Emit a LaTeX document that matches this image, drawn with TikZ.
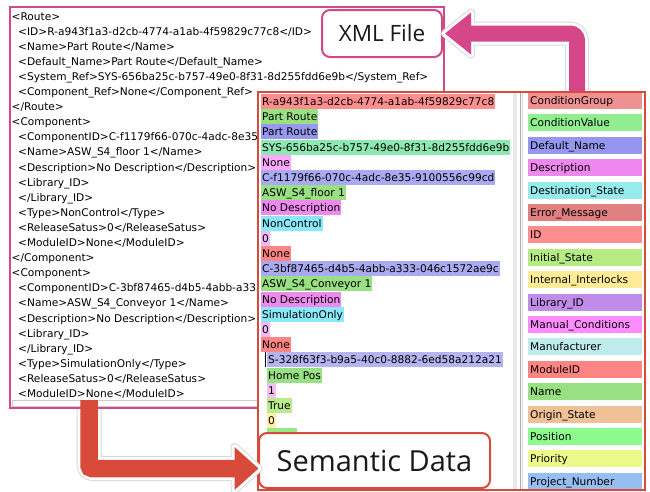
\documentclass[tikz,border=0pt]{standalone}
\usepackage{fontspec}
\setmainfont{DejaVu Sans}
\newfontfamily\labfont{Open Sans}
\definecolor{xpink}{RGB}{214,71,138}
\definecolor{xred}{RGB}{216,74,58}
\definecolor{cID}{RGB}{255,143,143}
\definecolor{cName}{RGB}{152,224,130}
\definecolor{cDefName}{RGB}{152,152,238}
\definecolor{cSys}{RGB}{142,232,178}
\definecolor{cCompRef}{RGB}{255,168,255}
\definecolor{cCompID}{RGB}{170,170,242}
\definecolor{cDesc}{RGB}{238,138,238}
\definecolor{cType}{RGB}{138,232,250}
\definecolor{cRel}{RGB}{242,184,242}
\definecolor{cMod}{RGB}{255,133,133}
\definecolor{cS}{RGB}{180,180,240}
\definecolor{cOne}{RGB}{245,190,240}
\definecolor{cTrue}{RGB}{185,235,140}
\definecolor{cYel}{RGB}{255,240,170}
\definecolor{cGreen}{RGB}{150,235,130}
\definecolor{bA}{RGB}{240,145,145}
\definecolor{bB}{RGB}{144,238,144}
\definecolor{bC}{RGB}{150,150,238}
\definecolor{bD}{RGB}{238,135,238}
\definecolor{bE}{RGB}{150,236,236}
\definecolor{bF}{RGB}{224,128,128}
\definecolor{bG}{RGB}{255,143,143}
\definecolor{bH}{RGB}{182,234,130}
\definecolor{bI}{RGB}{255,234,150}
\definecolor{bJ}{RGB}{192,140,234}
\definecolor{bK}{RGB}{255,140,255}
\definecolor{bL}{RGB}{190,236,236}
\definecolor{bM}{RGB}{255,133,133}
\definecolor{bN}{RGB}{152,224,130}
\definecolor{bO}{RGB}{240,192,150}
\definecolor{bP}{RGB}{140,250,140}
\definecolor{bQ}{RGB}{236,250,140}
\definecolor{bR}{RGB}{150,190,240}
\tikzset{
  smallfont/.style={font=\fontsize{10.6}{12}\selectfont},
  xmltxt/.style={smallfont, anchor=west, inner xsep=0pt, inner ysep=2pt, text height=9.5pt, text depth=1.5pt, text=black},
  val/.style={smallfont, anchor=west, inner xsep=1pt, inner ysep=2pt, text height=9.5pt, text depth=1.5pt, fill=#1, text=black},
  bar/.style={smallfont, anchor=west, text width=110pt, align=left, minimum height=17pt, inner xsep=2pt, inner ysep=0pt, text height=9.5pt, text depth=1.5pt, fill=#1, text=black},
  panel/.style={anchor=north west, fill=white, inner sep=0pt, outer sep=0pt},
  lbox/.style={fill=white, rounded corners=8pt, line width=2pt, inner sep=0pt, text=black!90},
  halogray/.style={draw=gray!30, line width=#1, line join=round},
  halowhite/.style={draw=white, line width=#1, line join=round},
}
\newcommand\xmlline[3]{\node[xmltxt] (x#1) at (#2,{16+15.1*#1}) {#3};}
\begin{document}
\begin{tikzpicture}[x=1pt,y=-1pt]
\useasboundingbox (0,0) rectangle (650,491);
\fill[white] (0,0) rectangle (650,491);

% ---------------- XML panel
\node[panel, minimum width=434pt, minimum height=401pt] (xmlp) at (10,7) {};
\begin{scope}
\clip (11,8) -- (443,8) -- (443,91) -- (257,91) -- (257,407) -- (11,407) -- cycle;
\xmlline{0}{11.5}{<Route>}
\xmlline{1}{18}{<ID>R-a943f1a3-d2cb-4774-a1ab-4f59829c77c8</ID>}
\xmlline{2}{18}{<Name>Part Route</Name>}
\xmlline{3}{18}{<Default\_Name>Part Route</Default\_Name>}
\xmlline{4}{18}{<System\_Ref>SYS-656ba25c-b757-49e0-8f31-8d255fdd6e9b</System\_Ref>}
\xmlline{5}{18}{<Component\_Ref>None</Component\_Ref>}
\xmlline{6}{11.5}{</Route>}
\xmlline{7}{11.5}{<Component>}
\xmlline{8}{18}{<ComponentID>C-f1179f66-070c-4adc-8e35-}
\xmlline{9}{18}{<Name>ASW\_S4\_floor 1</Name>}
\xmlline{10}{18}{<Description>No Description</Description>}
\xmlline{11}{18}{<Library\_ID>}
\xmlline{12}{18}{</Library\_ID>}
\xmlline{13}{18}{<Type>NonControl</Type>}
\xmlline{14}{18}{<ReleaseSatus>0</ReleaseSatus>}
\xmlline{15}{18}{<ModuleID>None</ModuleID>}
\xmlline{16}{11.5}{</Component>}
\xmlline{17}{11.5}{<Component>}
\xmlline{18}{18}{<ComponentID>C-3bf87465-d4b5-4abb-a333}
\xmlline{19}{18}{<Name>ASW\_S4\_Conveyor 1</Name>}
\xmlline{20}{18}{<Description>No Description</Description>}
\xmlline{21}{18}{<Library\_ID>}
\xmlline{22}{18}{</Library\_ID>}
\xmlline{23}{18}{<Type>SimulationOnly</Type>}
\xmlline{24}{18}{<ReleaseSatus>0</ReleaseSatus>}
\xmlline{25}{18}{<ModuleID>None</ModuleID>}
\end{scope}
\draw[gray!40] (12,400) rectangle (257,406.5);
\draw[xpink, line width=2pt] (xmlp.north west) rectangle (xmlp.south east);

% XML File label
\node[lbox, draw=xpink, minimum width=120pt, minimum height=47pt, font=\labfont\fontsize{22.5}{26}\selectfont] (xmlf) at (382,33.5) {XML File};

% ---------------- pink arrow (semantic panel -> XML File)
\coordinate (pa) at (577,93);
\coordinate (ptip) at ([xshift=2pt]xmlf.east);
\draw[halogray=24pt, rounded corners=7pt] (pa) |- ([xshift=27pt]xmlf.east);
\draw[halogray=8pt] (ptip) -- ++(26,-21) -- ++(0,42) -- cycle;
\draw[halowhite=22pt, rounded corners=7pt] (pa) |- ([xshift=27pt]xmlf.east);
\draw[halowhite=6pt] (ptip) -- ++(26,-21) -- ++(0,42) -- cycle;
\draw[xpink, line width=16pt, rounded corners=7pt] (pa) |- ([xshift=27pt]xmlf.east);
\fill[xpink] (ptip) -- ++(26,-21) -- ++(0,42) -- cycle;

% ---------------- Semantic panel
\node[panel, minimum width=387pt, minimum height=397.5pt] (sem) at (258,92) {};
\begin{scope}
\clip (259,93) rectangle (512,489);
\foreach \t/\c/\xx [count=\i from 0] in {
  R-a943f1a3-d2cb-4774-a1ab-4f59829c77c8/cID/261,
  Part Route/cName/261,
  Part Route/cDefName/261,
  SYS-656ba25c-b757-49e0-8f31-8d255fdd6e9b/cSys/261,
  None/cCompRef/261,
  C-f1179f66-070c-4adc-8e35-9100556c99cd/cCompID/261,
  ASW\_S4\_floor 1/cName/261,
  No Description/cDesc/261,
  NonControl/cType/261,
  0/cRel/261,
  None/cMod/261,
  C-3bf87465-d4b5-4abb-a333-046c1572ae9c/cCompID/261,
  ASW\_S4\_Conveyor 1/cName/261,
  No Description/cDesc/261,
  SimulationOnly/cType/261,
  0/cRel/261,
  None/cMod/261,
  S-328f63f3-b9a5-40c0-8882-6ed58a212a21/cS/267,
  Home Pos/cName/267,
  1/cOne/267,
  True/cTrue/267,
  0/cYel/267}
  \node[val=\c] (v\i) at (\xx,{101.5+15.2*\i}) {\t};
\node[val=cGreen, minimum width=30pt] (v22) at (267,{101.5+15.2*22}) {};
\draw[line width=0.8pt] (265.2,{101.5+15.2*17-7.5}) -- ++(0,15);
\end{scope}
% splitter
\fill[gray!18] (513,93) rectangle (517,489);
\draw[gray!65] (520,93) -- (520,489);
\draw[gray!30, line width=1.5pt] (522.5,93) -- (522.5,489);
% field list
\foreach \t/\c [count=\i from 0] in {
  ConditionGroup/bA, ConditionValue/bB, Default\_Name/bC, Description/bD,
  Destination\_State/bE, Error\_Message/bF, ID/bG, Initial\_State/bH,
  Internal\_Interlocks/bI, Library\_ID/bJ, Manual\_Conditions/bK, Manufacturer/bL,
  ModuleID/bM, Name/bN, Origin\_State/bO, Position/bP, Priority/bQ, Project\_Number/bR}
  \node[bar=\c] (b\i) at (528,{100.5+22.4*\i}) {\t};
\draw[xred, line width=2pt] (sem.north west) rectangle (sem.south east);

% Semantic Data label
\node[lbox, draw=xred, minimum width=231pt, minimum height=55pt, font=\labfont\fontsize{29}{34}\selectfont] (sd) at (374.5,460.5) {Semantic Data};

% ---------------- red arrow (XML panel -> Semantic Data)
\coordinate (ra) at (89,400);
\coordinate (rb) at (89,409);
\coordinate (rtip) at ([xshift=0.5pt,yshift=-8pt]sd.west);
\draw[halogray=25pt, rounded corners=3pt] (rb) |- ([xshift=-20pt]rtip);
\draw[halogray=8pt] (rtip) -- ++(-24,-21.5) -- ++(0,43) -- cycle;
\draw[halowhite=23pt, rounded corners=3pt] (rb) |- ([xshift=-20pt]rtip);
\draw[halowhite=6pt] (rtip) -- ++(-24,-21.5) -- ++(0,43) -- cycle;
\draw[xred, line width=17.5pt, rounded corners=3pt] (ra) |- ([xshift=-20pt]rtip);
\fill[xred] (rtip) -- ++(-24,-21.5) -- ++(0,43) -- cycle;
\end{tikzpicture}
\end{document}
